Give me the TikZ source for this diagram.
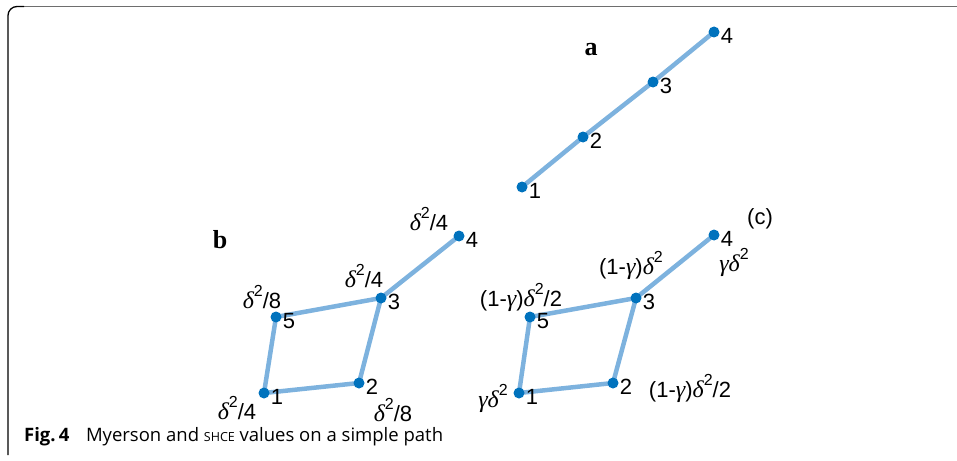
\documentclass[tikz,border=0pt]{standalone}
\usepackage{fontspec}
\setmainfont{Liberation Sans}
\newfontfamily\grkfont{Liberation Serif}
\newfontfamily\capfont{Open Sans}
\newfontfamily\serifb{Liberation Serif}
\definecolor{edgeblue}{RGB}{125,178,222}
\definecolor{dotblue}{RGB}{0,114,189}
\definecolor{framegray}{RGB}{110,110,110}
\newcommand{\dl}{{\grkfont\itshape\fontsize{24}{24}\selectfont δ}}
\newcommand{\gm}{{\grkfont\itshape\fontsize{24}{24}\selectfont γ}}
\newcommand{\sqr}{\raisebox{12pt}{\fontsize{16}{16}\selectfont 2}}
\tikzset{
  x=1pt,y=-1pt,
  dot/.style={circle,fill=dotblue,inner sep=0pt,minimum size=11pt},
  edge/.style={draw=edgeblue,line width=4.5pt},
  numlab/.style={font=\fontsize{22}{22}\selectfont,inner sep=1pt,yshift=-4pt},
  vallab/.style={font=\fontsize{22}{22}\selectfont,inner sep=0pt},
  panel/.style={font=\serifb\bfseries\fontsize{26}{26}\selectfont,inner sep=0pt},
}
\begin{document}
\begin{tikzpicture}
\useasboundingbox (0,0) rectangle (957,460);
% frame
\draw[framegray,line width=1.8pt] (17,6.5) -- (957,6.5);
\draw[black,line width=1.3pt,rounded corners=9pt] (8,455) -- (8,6.5) -- (24,6.5);
% panel a
\coordinate (a1) at (522,187);
\coordinate (a2) at (583,137);
\coordinate (a3) at (653,82);
\coordinate (a4) at (714,32);
\draw[edge] (a1) -- (a2) -- (a3) -- (a4);
\foreach \i in {1,2,3,4} {\node[dot,label={[numlab]0:\i}] (na\i) at (a\i) {};}
\node[panel] (la) at (591,50) {a};
% panel b
\coordinate (b1) at (264,393);
\coordinate (b2) at (359,383);
\coordinate (b3) at (381,298);
\coordinate (b4) at (459,236);
\coordinate (b5) at (276,317);
\draw[edge] (b1) -- (b2) -- (b3) -- (b5) -- cycle;
\draw[edge] (b3) -- (b4);
\foreach \i in {1,...,5} {\node[dot,label={[numlab]0:\i}] (nb\i) at (b\i) {};}
\node[panel] (lb) at (220,240) {b};
\node[vallab] (vb4) at (429,219) {\dl\sqr/4};
\node[vallab] (vb3) at (364,276) {\dl\sqr/4};
\node[vallab] (vb5) at (262,297) {\dl\sqr/8};
\node[vallab] (vb1) at (237,408) {\dl\sqr/4};
\node[vallab] (vb2) at (393,410) {\dl\sqr/8};
% panel c
\coordinate (c1) at (519,393);
\coordinate (c2) at (613,383);
\coordinate (c3) at (636,298);
\coordinate (c4) at (714,235);
\coordinate (c5) at (530,317);
\draw[edge] (c1) -- (c2) -- (c3) -- (c5) -- cycle;
\draw[edge] (c3) -- (c4);
\foreach \i in {1,...,5} {\node[dot,label={[numlab]0:\i}] (nc\i) at (c\i) {};}
\node[vallab] (lc) at (760,219) {(c)};
\node[vallab] (vc5) at (521,297) {(1-\gm)\dl\sqr/2};
\node[vallab] (vc3) at (631,265) {(1-\gm)\dl\sqr};
\node[vallab] (vc4) at (734,262) {\gm\dl\sqr};
\node[vallab] (vc2) at (690,388) {(1-\gm)\dl\sqr/2};
\node[vallab] (vc1) at (493,398) {\gm\dl\sqr};
% caption
\node[anchor=west,inner sep=0pt,font=\capfont\fontsize{18.5}{18.5}\selectfont] (cap) at (24,437)
  {\textbf{Fig.\,4}\hspace{0.9em}Myerson and {\fontsize{12.5}{12.5}\selectfont SHCE} values on a simple path};
\end{tikzpicture}
\end{document}
